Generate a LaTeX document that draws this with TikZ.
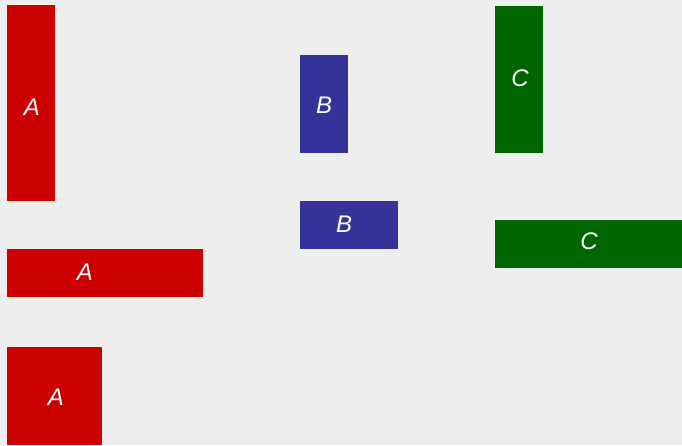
\documentclass[tikz,border=0pt]{standalone}
\usepackage{fontspec}
\setmainfont{Liberation Sans}
\definecolor{bgc}{HTML}{EEEEEE}
\definecolor{redc}{HTML}{CC0000}
\definecolor{bluec}{HTML}{333399}
\definecolor{greenc}{HTML}{006600}
\tikzset{
  blk/.style={inner sep=0pt, outer sep=0pt},
  lbl/.style={text=white, font=\fontsize{24}{28}\selectfont\itshape, inner sep=0pt, anchor=center}
}
\begin{document}
\begin{tikzpicture}[x=1pt,y=-1pt]
\fill[bgc] (0,0) rectangle (682,445);
\useasboundingbox (0,0) rectangle (682,445);
% rectangles
\fill[redc] (7,5) rectangle (55,201);
\fill[redc] (7,248.5) rectangle (203,296.5);
\fill[redc] (7,347) rectangle (102,445);
\fill[bluec] (300,54.5) rectangle (347.5,153);
\fill[bluec] (300,200.5) rectangle (398,248.5);
\fill[greenc] (495,5.5) rectangle (542.5,153);
\fill[greenc] (495,219.5) rectangle (682,267.5);
% labels
\node[lbl] (a1) at (32,107) {A};
\node[lbl] (a2) at (85,272.5) {A};
\node[lbl] (a3) at (56,397) {A};
\node[lbl] (b1) at (324,105) {B};
\node[lbl] (b2) at (344,224) {B};
\node[lbl] (c1) at (520,78.5) {C};
\node[lbl] (c2) at (589,241.5) {C};
\end{tikzpicture}
\end{document}
